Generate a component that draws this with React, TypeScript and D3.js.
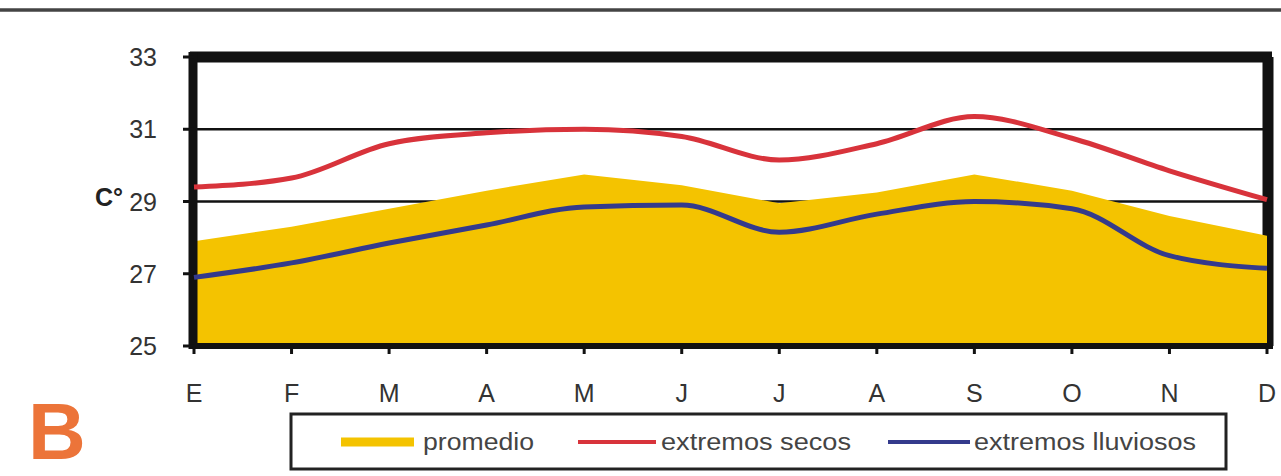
import React, { useEffect, useRef } from "react";
import * as d3 from "d3";

const months = ["E", "F", "M", "A", "M", "J", "J", "A", "S", "O", "N", "D"];
const promedio = [27.9, 28.3, 28.8, 29.3, 29.75, 29.45, 28.95, 29.25, 29.75, 29.3, 28.6, 28.05];
const secos = [29.4, 29.65, 30.6, 30.9, 31.0, 30.8, 30.15, 30.6, 31.35, 30.75, 29.85, 29.05];
const lluviosos = [26.9, 27.3, 27.85, 28.35, 28.85, 28.9, 28.15, 28.65, 29.0, 28.8, 27.5, 27.15];
const yTicks = [25, 27, 29, 31, 33];
const gridValues = [29, 31];

const W = 1281;
const H = 476;
const FONT = "'Liberation Sans', Arial, sans-serif";

export default function App() {
  const ref = useRef<SVGSVGElement>(null);

  useEffect(() => {
    const svg = d3.select(ref.current);
    svg.selectAll("*").remove();

    const x = d3.scalePoint<number>().domain(d3.range(months.length)).range([194, 1267]);
    const y = d3.scaleLinear().domain([25, 33]).range([346, 57]);
    const x0 = x(0)!;
    const x1 = x(months.length - 1)!;

    // top rule
    svg.append("line").attr("x1", 0).attr("x2", W).attr("y1", 10).attr("y2", 10)
      .attr("stroke", "#444").attr("stroke-width", 3.5);

    // gridlines
    svg.selectAll(".grid").data(gridValues).enter().append("line")
      .attr("x1", x0).attr("x2", x1).attr("y1", (d) => y(d)).attr("y2", (d) => y(d))
      .attr("stroke", "#111").attr("stroke-width", 2.5);

    // frame top and right
    svg.append("line").attr("x1", x0 - 4).attr("x2", x1 + 5).attr("y1", y(33)).attr("y2", y(33))
      .attr("stroke", "#111").attr("stroke-width", 11);
    svg.append("line").attr("x1", x1 + 1).attr("x2", x1 + 1).attr("y1", y(33)).attr("y2", y(25))
      .attr("stroke", "#111").attr("stroke-width", 11);

    // area
    const area = d3.area<number>()
      .x((_, i) => x(i)!)
      .y0(y(25))
      .y1((d) => y(d));
    svg.append("path").datum(promedio).attr("d", area).attr("fill", "#F4C300");

    // left axis & bottom axis
    svg.append("line").attr("x1", x0 - 1).attr("x2", x0 - 1).attr("y1", y(33) - 5).attr("y2", y(25) + 3)
      .attr("stroke", "#111").attr("stroke-width", 9);
    svg.append("line").attr("x1", x0 - 4).attr("x2", x1 + 6).attr("y1", y(25)).attr("y2", y(25))
      .attr("stroke", "#111").attr("stroke-width", 6);

    // y ticks
    svg.selectAll(".yt").data(yTicks).enter().append("line")
      .attr("x1", x0 - 11).attr("x2", x0).attr("y1", (d) => y(d)).attr("y2", (d) => y(d))
      .attr("stroke", "#111").attr("stroke-width", 3);
    svg.selectAll(".yl").data(yTicks).enter().append("text")
      .attr("x", 157).attr("y", (d) => y(d) + 9)
      .attr("text-anchor", "end").attr("font-family", FONT).attr("font-size", 25)
      .attr("fill", "#333").text((d) => String(d));

    // x ticks
    svg.selectAll(".xt").data(months.map((_, i) => i)).enter().append("line")
      .attr("x1", (i) => x(i)!).attr("x2", (i) => x(i)!).attr("y1", y(25)).attr("y2", y(25) + 8)
      .attr("stroke", "#111").attr("stroke-width", 3);
    svg.selectAll(".xl").data(months.map((m, i) => ({ m, i }))).enter().append("text")
      .attr("x", (d) => x(d.i)!).attr("y", 402)
      .attr("text-anchor", "middle").attr("font-family", FONT).attr("font-size", 25)
      .attr("fill", "#333").text((d) => d.m);

    // lines
    const line = d3.line<number>().x((_, i) => x(i)!).y((d) => y(d)).curve(d3.curveMonotoneX);
    svg.append("path").datum(secos).attr("d", line).attr("fill", "none")
      .attr("stroke", "#D8333B").attr("stroke-width", 5);
    svg.append("path").datum(lluviosos).attr("d", line).attr("fill", "none")
      .attr("stroke", "#343A8C").attr("stroke-width", 5);

    // unit label
    svg.append("text").attr("x", 95).attr("y", 206).attr("font-family", FONT)
      .attr("font-size", 25).attr("font-weight", "bold").attr("fill", "#222").text("C°");

    // B
    svg.append("text").attr("x", 28).attr("y", 459).attr("font-family", FONT)
      .attr("font-size", 80).attr("font-weight", "bold").attr("fill", "#EC7439").text("B");

    // legend
    svg.append("rect").attr("x", 291).attr("y", 414).attr("width", 935).attr("height", 55)
      .attr("fill", "white").attr("stroke", "#222").attr("stroke-width", 3);
    const items = [
      { label: "promedio", color: "#F4C300", sw: 9, lx1: 341, lx2: 414, tx: 423, tl: 111 },
      { label: "extremos secos", color: "#D8333B", sw: 4, lx1: 578, lx2: 656, tx: 661, tl: 190 },
      { label: "extremos lluviosos", color: "#343A8C", sw: 4, lx1: 888, lx2: 970, tx: 974, tl: 222 },
    ];
    items.forEach((it) => {
      svg.append("line").attr("x1", it.lx1).attr("x2", it.lx2).attr("y1", 442).attr("y2", 442)
        .attr("stroke", it.color).attr("stroke-width", it.sw);
      svg.append("text").attr("x", it.tx).attr("y", 450).attr("font-family", FONT)
        .attr("font-size", 23).attr("fill", "#444")
        .attr("textLength", it.tl).attr("lengthAdjust", "spacingAndGlyphs").text(it.label);
    });
  }, []);

  return (
    <svg ref={ref} width={W} height={H}
      style={{ position: "absolute", left: 0, top: 0, display: "block", background: "white" }} />
  );
}
